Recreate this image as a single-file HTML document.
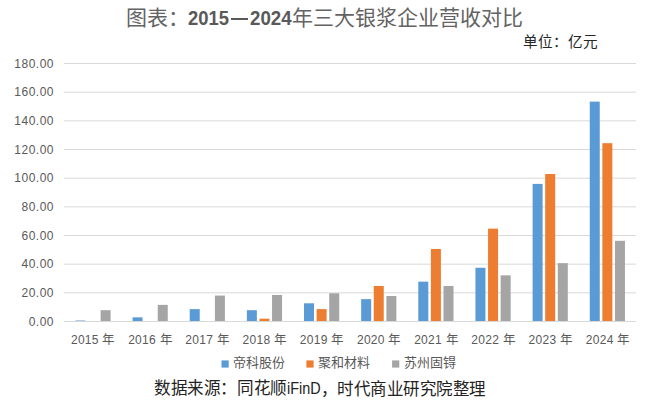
<!DOCTYPE html>
<html lang="zh-CN"><head><meta charset="utf-8">
<style>
html,body{margin:0;padding:0;background:#fff;}
body{width:660px;height:412px;overflow:hidden;position:relative;}
svg{position:absolute;left:0;top:0;}
.ax{font-family:"Liberation Sans",sans-serif;font-size:12px;fill:#595959;}
.yl{letter-spacing:0.5px;}
.xl{letter-spacing:0.3px;}
.cj{font-size:12.5px;letter-spacing:0;}
.t{position:absolute;white-space:nowrap;font-family:"Liberation Sans",sans-serif;}
.b{font-weight:bold;font-size:20px;color:#595959;line-height:30px;top:3px;transform:scaleX(0.92);transform-origin:0 0;}
.h{font-size:21px;color:#636363;line-height:30px;top:3px;}
.lg{font-size:13px;color:#595959;line-height:18px;top:354px;}
.src{font-size:16.5px;color:#222;line-height:22px;top:378px;}
</style></head><body>
<div class="t h" style="left:126px;">图表：</div>
<div class="t b" style="left:188px;">2015</div>
<div class="t" style="left:230.6px;top:17.8px;width:17px;height:2.1px;background:#595959;"></div>
<div class="t b" style="left:249.5px;transform:scaleX(0.935);">2024</div>
<div class="t h" style="left:291.5px;">年三大银浆企业营收对比</div>
<div class="t" style="left:523px;top:32.4px;font-size:14.6px;color:#262626;line-height:20px;">单位：亿元</div>
<svg width="660" height="412" xmlns="http://www.w3.org/2000/svg">
<line x1="64.0" x2="636.0" y1="292.83" y2="292.83" stroke="#D9D9D9" stroke-width="1"/>
<line x1="64.0" x2="636.0" y1="264.17" y2="264.17" stroke="#D9D9D9" stroke-width="1"/>
<line x1="64.0" x2="636.0" y1="235.50" y2="235.50" stroke="#D9D9D9" stroke-width="1"/>
<line x1="64.0" x2="636.0" y1="206.83" y2="206.83" stroke="#D9D9D9" stroke-width="1"/>
<line x1="64.0" x2="636.0" y1="178.17" y2="178.17" stroke="#D9D9D9" stroke-width="1"/>
<line x1="64.0" x2="636.0" y1="149.50" y2="149.50" stroke="#D9D9D9" stroke-width="1"/>
<line x1="64.0" x2="636.0" y1="120.83" y2="120.83" stroke="#D9D9D9" stroke-width="1"/>
<line x1="64.0" x2="636.0" y1="92.17" y2="92.17" stroke="#D9D9D9" stroke-width="1"/>
<line x1="64.0" x2="636.0" y1="63.50" y2="63.50" stroke="#D9D9D9" stroke-width="1"/>
<rect x="75.41" y="320.50" width="10.0" height="1.00" fill="#5B9BD5"/>
<rect x="100.61" y="310.18" width="10.0" height="11.32" fill="#A5A5A5"/>
<rect x="132.56" y="317.34" width="10.0" height="4.16" fill="#5B9BD5"/>
<rect x="157.75" y="304.87" width="10.0" height="16.63" fill="#A5A5A5"/>
<rect x="189.71" y="309.10" width="10.0" height="12.40" fill="#5B9BD5"/>
<rect x="214.91" y="295.56" width="10.0" height="25.94" fill="#A5A5A5"/>
<rect x="246.86" y="310.18" width="10.0" height="11.32" fill="#5B9BD5"/>
<rect x="259.46" y="318.70" width="10.0" height="2.79" fill="#ED7D31"/>
<rect x="272.06" y="294.98" width="10.0" height="26.52" fill="#A5A5A5"/>
<rect x="304.00" y="303.30" width="10.0" height="18.20" fill="#5B9BD5"/>
<rect x="316.61" y="309.10" width="10.0" height="12.40" fill="#ED7D31"/>
<rect x="329.21" y="293.26" width="10.0" height="28.24" fill="#A5A5A5"/>
<rect x="361.15" y="299.14" width="10.0" height="22.36" fill="#5B9BD5"/>
<rect x="373.75" y="285.95" width="10.0" height="35.55" fill="#ED7D31"/>
<rect x="386.36" y="295.99" width="10.0" height="25.51" fill="#A5A5A5"/>
<rect x="418.30" y="281.65" width="10.0" height="39.85" fill="#5B9BD5"/>
<rect x="430.90" y="248.97" width="10.0" height="72.53" fill="#ED7D31"/>
<rect x="443.50" y="285.95" width="10.0" height="35.55" fill="#A5A5A5"/>
<rect x="475.45" y="267.75" width="10.0" height="53.75" fill="#5B9BD5"/>
<rect x="488.06" y="228.62" width="10.0" height="92.88" fill="#ED7D31"/>
<rect x="500.66" y="275.35" width="10.0" height="46.15" fill="#A5A5A5"/>
<rect x="532.60" y="183.90" width="10.0" height="137.60" fill="#5B9BD5"/>
<rect x="545.20" y="174.01" width="10.0" height="147.49" fill="#ED7D31"/>
<rect x="557.80" y="263.16" width="10.0" height="58.34" fill="#A5A5A5"/>
<rect x="589.75" y="101.63" width="10.0" height="219.87" fill="#5B9BD5"/>
<rect x="602.36" y="143.19" width="10.0" height="178.31" fill="#ED7D31"/>
<rect x="614.96" y="240.80" width="10.0" height="80.70" fill="#A5A5A5"/>
<line x1="64.0" x2="636.0" y1="321.5" y2="321.5" stroke="#D9D9D9" stroke-width="1"/>
<text x="54" y="325.80" text-anchor="end" class="ax yl">0.00</text>
<text x="54" y="297.13" text-anchor="end" class="ax yl">20.00</text>
<text x="54" y="268.47" text-anchor="end" class="ax yl">40.00</text>
<text x="54" y="239.80" text-anchor="end" class="ax yl">60.00</text>
<text x="54" y="211.13" text-anchor="end" class="ax yl">80.00</text>
<text x="54" y="182.47" text-anchor="end" class="ax yl">100.00</text>
<text x="54" y="153.80" text-anchor="end" class="ax yl">120.00</text>
<text x="54" y="125.13" text-anchor="end" class="ax yl">140.00</text>
<text x="54" y="96.47" text-anchor="end" class="ax yl">160.00</text>
<text x="54" y="67.80" text-anchor="end" class="ax yl">180.00</text>
<text x="93.20" y="344.4" text-anchor="middle" class="ax xl">2015 <tspan class="cj">年</tspan></text>
<text x="150.40" y="344.4" text-anchor="middle" class="ax xl">2016 <tspan class="cj">年</tspan></text>
<text x="207.60" y="344.4" text-anchor="middle" class="ax xl">2017 <tspan class="cj">年</tspan></text>
<text x="264.80" y="344.4" text-anchor="middle" class="ax xl">2018 <tspan class="cj">年</tspan></text>
<text x="322.00" y="344.4" text-anchor="middle" class="ax xl">2019 <tspan class="cj">年</tspan></text>
<text x="379.20" y="344.4" text-anchor="middle" class="ax xl">2020 <tspan class="cj">年</tspan></text>
<text x="436.40" y="344.4" text-anchor="middle" class="ax xl">2021 <tspan class="cj">年</tspan></text>
<text x="493.60" y="344.4" text-anchor="middle" class="ax xl">2022 <tspan class="cj">年</tspan></text>
<text x="550.80" y="344.4" text-anchor="middle" class="ax xl">2023 <tspan class="cj">年</tspan></text>
<text x="608.00" y="344.4" text-anchor="middle" class="ax xl">2024 <tspan class="cj">年</tspan></text>
<rect x="221.5" y="360.4" width="7.2" height="7.2" fill="#5B9BD5"/>
<rect x="306.4" y="360.4" width="7.2" height="7.2" fill="#ED7D31"/>
<rect x="392.1" y="360.4" width="7.2" height="7.2" fill="#A5A5A5"/>
</svg>
<div class="t lg" style="left:232.5px;">帝科股份</div>
<div class="t lg" style="left:318px;">聚和材料</div>
<div class="t lg" style="left:403.5px;">苏州固锝</div>
<div class="t src" style="left:154px;font-size:16.6px;letter-spacing:-0.4px;">数据来源：同花顺</div>
<div class="t src" style="left:286.5px;font-size:16px;transform:scaleX(0.9);transform-origin:0 0;">iFinD</div>
<div class="t src" style="left:320.5px;font-size:16.5px;letter-spacing:-0.5px;">，时代商业研究院整理</div>
</body></html>
